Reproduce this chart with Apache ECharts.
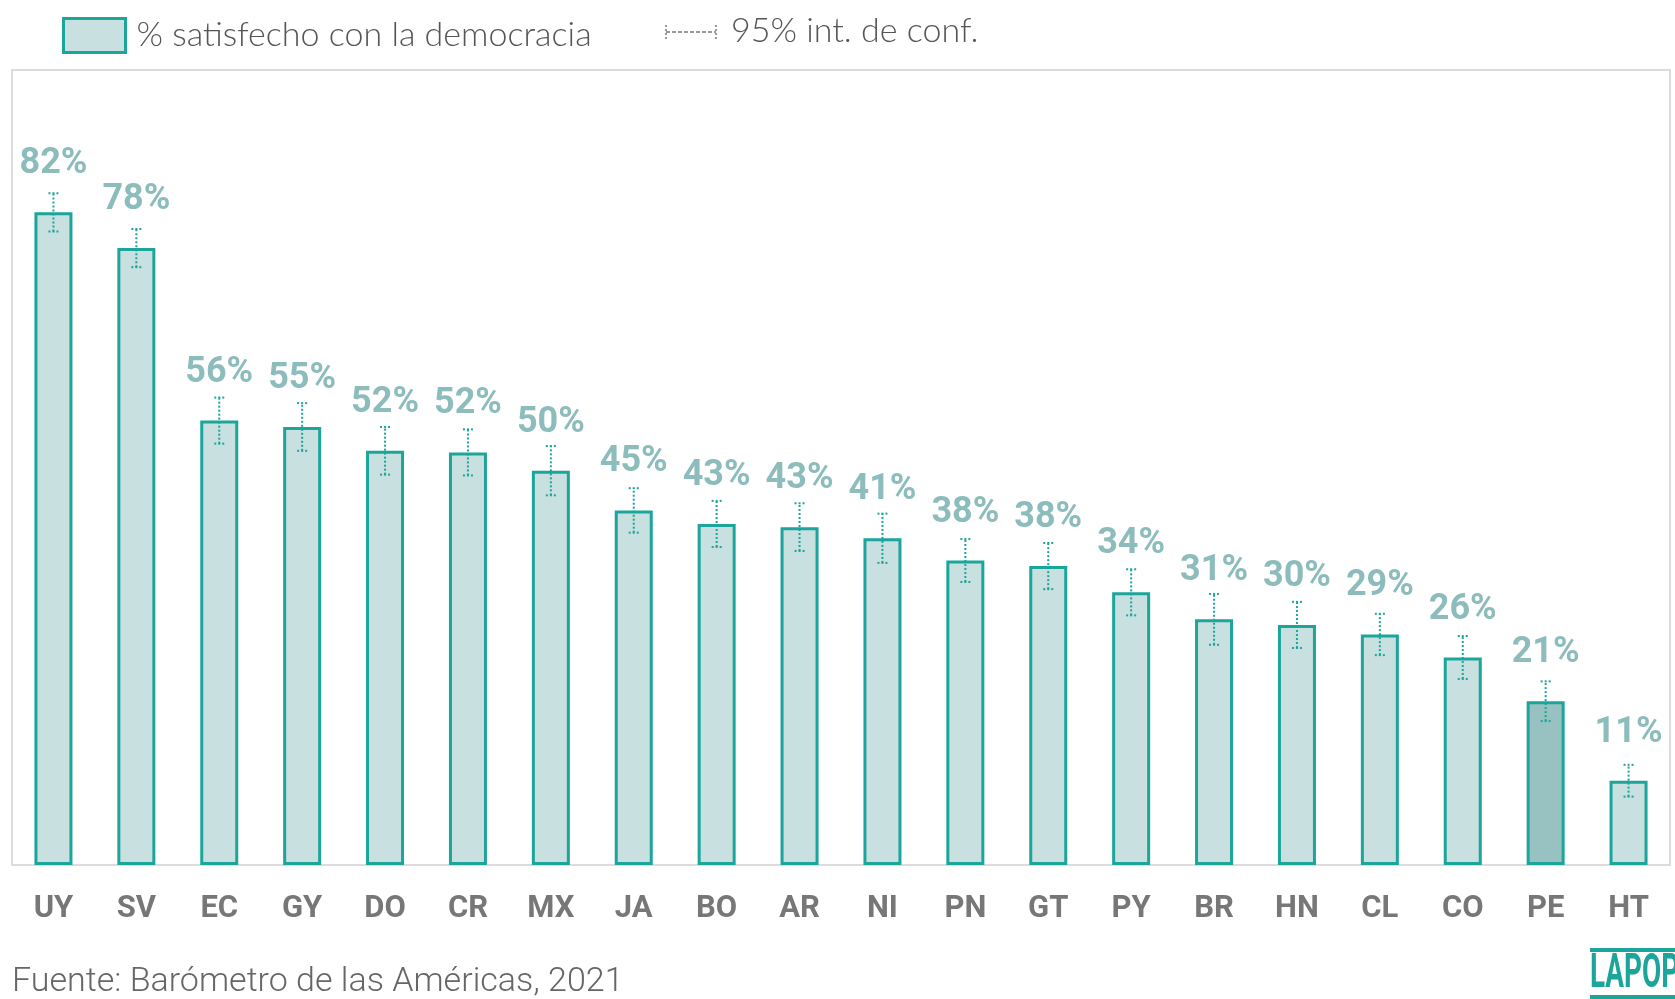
<!DOCTYPE html>
<html>
<head>
    <meta charset="utf-8">
    <script src="https://cdn.jsdelivr.net/npm/echarts@6/dist/echarts.min.js"></script>
    <style>
        html, body { margin: 0; padding: 0; background: #fff; }
    </style>
</head>
<body>
    <div id="chart" style="width: 1675px;height:999px;"></div>
    <script type="text/javascript">
        // datos
        var paises = ['UY', 'SV', 'EC', 'GY', 'DO', 'CR', 'MX', 'JA', 'BO', 'AR',
                      'NI', 'PN', 'GT', 'PY', 'BR', 'HN', 'CL', 'CO', 'PE', 'HT'];
        var satisfecho = [82.1, 77.6, 55.9, 55.1, 52.1, 51.9, 49.6, 44.6, 42.9, 42.5,
                          41.1, 38.3, 37.6, 34.3, 30.9, 30.2, 29.0, 26.1, 20.6, 10.6];
        var ciLow  = [79.7, 75.2, 53.0, 52.1, 49.1, 49.0, 46.5, 41.8, 40.0, 39.5,
                      38.0, 35.6, 34.7, 31.4, 27.7, 27.3, 26.4, 23.4, 18.1, 8.6];
        var ciHigh = [84.5, 80.0, 58.8, 58.1, 55.1, 54.8, 52.7, 47.4, 45.8, 45.5,
                      44.2, 41.0, 40.5, 37.2, 34.1, 33.1, 31.6, 28.8, 23.1, 12.6];
        var destacado = 'PE';

        var teal = '#1ba59b';
        var myChart = echarts.init(document.getElementById('chart'));

        var barData = [];
        var ciData = [];
        for (var i = 0; i < paises.length; i++) {
            barData.push({
                value: satisfecho[i],
                itemStyle: { color: paises[i] == destacado ? '#98c2c1' : '#c9e0e0' }
            });
            ciData.push([i, ciLow[i], ciHigh[i]]);
        }

        function renderCI(params, api) {
            var lo = api.coord([api.value(0), api.value(1)]);
            var hi = api.coord([api.value(0), api.value(2)]);
            var w = 5;
            var st = { stroke: teal, lineWidth: 2, lineDash: [2, 2], fill: null };
            return {
                type: 'group',
                children: [
                    { type: 'line', shape: { x1: lo[0], y1: lo[1], x2: hi[0], y2: hi[1] }, style: st },
                    { type: 'line', shape: { x1: hi[0] - w, y1: hi[1], x2: hi[0] + w, y2: hi[1] }, style: st },
                    { type: 'line', shape: { x1: lo[0] - w, y1: lo[1], x2: lo[0] + w, y2: lo[1] }, style: st }
                ]
            };
        }

        var option = {
            animation: false,
            legend: {
                data: ['% satisfecho con la democracia'],
                left: 57,
                top: 12,
                itemWidth: 62,
                itemHeight: 34,
                icon: 'rect',
                itemStyle: { color: '#c9e0e0', borderColor: teal, borderWidth: 3 },
                textStyle: { fontFamily: 'Lato', fontWeight: 300, fontSize: 34, color: '#555', padding: [4, 0, 0, 6] }
            },
            grid: {
                show: true,
                left: 12, right: 5, top: 70, bottom: 134,
                borderColor: '#dcdcdc',
                borderWidth: 2
            },
            xAxis: {
                type: 'category',
                data: paises,
                axisLine: { show: false },
                axisTick: { show: false },
                axisLabel: {
                    margin: 29,
                    fontFamily: 'Roboto',
                    fontWeight: 'bold',
                    fontSize: 31,
                    color: '#777'
                }
            },
            yAxis: {
                type: 'value',
                min: 0, max: 100,
                show: false,
                splitLine: { show: false }
            },
            series: [
                {
                    name: '% satisfecho con la democracia',
                    type: 'bar',
                    data: barData,
                    barWidth: 38,
                    itemStyle: { borderColor: teal, borderWidth: 3 },
                    label: {
                        show: true,
                        position: 'top',
                        distance: 30,
                        fontFamily: 'Roboto',
                        fontWeight: 'bold',
                        fontSize: 36,
                        color: '#8cbcbb',
                        formatter: function (p) { return Math.round(p.value) + '%'; }
                    }
                },
                {
                    name: '95% int. de conf.',
                    type: 'custom',
                    renderItem: renderCI,
                    data: ciData,
                    encode: { x: 0, y: [1, 2] },
                    z: 5
                }
            ],
            graphic: [
                // clave del intervalo de confianza
                { type: 'line', shape: { x1: 666, y1: 32, x2: 716, y2: 32 },
                  style: { stroke: '#777', lineWidth: 1.5, lineDash: [4, 2] } },
                { type: 'line', shape: { x1: 666, y1: 25, x2: 666, y2: 39 },
                  style: { stroke: '#777', lineWidth: 1.5, lineDash: [2, 2] } },
                { type: 'line', shape: { x1: 716, y1: 25, x2: 716, y2: 39 },
                  style: { stroke: '#777', lineWidth: 1.5, lineDash: [2, 2] } },
                { type: 'text', left: 731, top: 14,
                  style: { text: '95% int. de conf.', font: '300 34px Lato', fill: '#555' } },
                // fuente
                { type: 'text', left: 12, bottom: 0,
                  style: { text: 'Fuente: Barómetro de las Américas, 2021', font: '300 34px Roboto', fill: '#666' } },
                // logo
                { type: 'rect', shape: { x: 1590, y: 948, width: 85, height: 4 }, style: { fill: teal } },
                { type: 'rect', shape: { x: 1590, y: 995, width: 85, height: 4 }, style: { fill: teal } },
                { type: 'text', x: 1590, y: 951, scaleX: 0.58,
                  style: { text: 'LAPOP', font: 'bold 48px Roboto', fill: teal } }
            ]
        };
        myChart.setOption(option);
    </script>
</body>
</html>
